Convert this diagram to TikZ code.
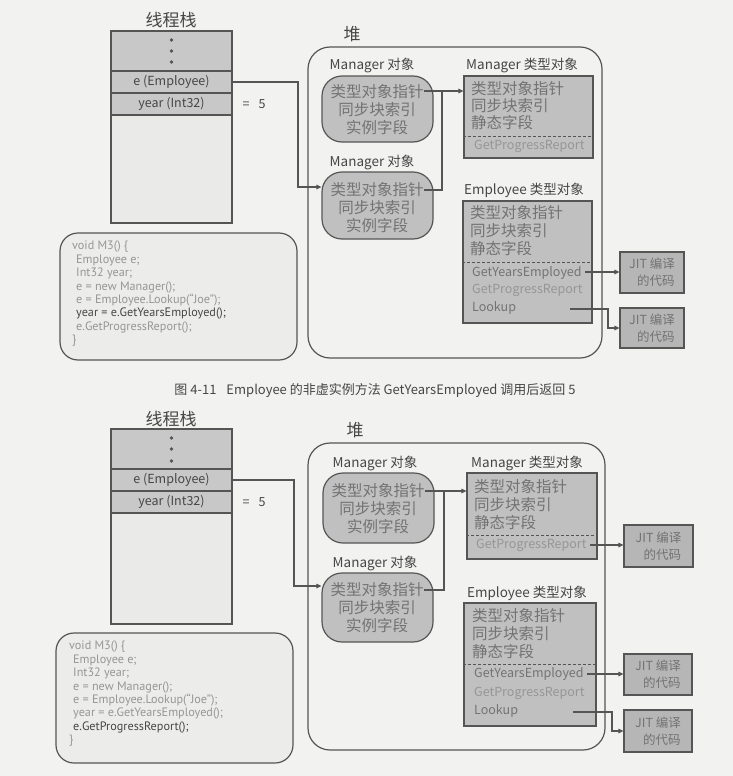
\documentclass[tikz,border=0pt]{standalone}
\usepackage{fontspec}
\setmainfont{Noto Sans CJK SC}
\newfontfamily\codefont{PT Sans}
\usetikzlibrary{arrows.meta}
\definecolor{pagebg}{RGB}{242,242,240}
\definecolor{edge}{RGB}{85,85,85}
\definecolor{cellgray}{RGB}{200,200,200}
\definecolor{restgray}{RGB}{234,234,232}
\definecolor{objgray}{RGB}{192,192,192}
\definecolor{jitgray}{RGB}{182,182,182}
\definecolor{codegray}{RGB}{236,236,234}
\definecolor{txt}{RGB}{115,115,115}
\definecolor{dark}{RGB}{70,70,70}
\definecolor{faint}{RGB}{150,150,150}
\tikzset{
  every node/.style={inner sep=0pt},
  title/.style={text=dark, font=\fontsize{17}{18}\selectfont},
  cell/.style={draw=edge, line width=1.2pt, fill=cellgray, minimum width=121pt, text=dark, font=\fontsize{12.5}{13}\selectfont},
  objbox/.style={draw=edge, line width=1.2pt, fill=objgray, rounded corners=20pt, minimum width=111pt},
  typebox/.style={draw=edge, line width=1.2pt, fill=objgray},
  jitbox/.style={draw=edge, line width=1.2pt, fill=jitgray, align=left, text=txt, font=\fontsize{12.5}{17}\selectfont},
  heap/.style={draw=edge, line width=1.2pt, rounded corners=22pt},
  codebox/.style={draw=edge, line width=1.2pt, fill=codegray, rounded corners=18pt},
  code/.style={align=left, text=faint, font=\codefont\fontsize{12.2}{13.4}\selectfont},
  lbl/.style={text=dark, font=\fontsize{13.5}{14}\selectfont},
  cjk/.style={text=txt, font=\fontsize{15.5}{16}\selectfont},
  meth/.style={text=txt, font=\fontsize{12.5}{13}\selectfont, anchor=west},
  ptr/.style={draw=edge, line width=1.1pt, -{Triangle[length=5pt,width=4.5pt]}},
  sep/.style={draw=edge, dash pattern=on 3pt off 2pt, line width=0.9pt}
}
\begin{document}
\begin{tikzpicture}[x=1pt,y=-1pt]
\useasboundingbox[fill=pagebg] (0,0) rectangle (733,776);

% ---- figure 4-11
\node[title] (stkA) at (171,20) {线程栈};
\node[cell, minimum height=40pt] (dotsA) at (171.5,51) {};
\foreach \y in {40,51,62} \fill[edge] (171.5,\y) circle (1.8pt);
\node[cell, minimum height=22pt] (eA) at (171.5,82) {e (Employee)};
\node[cell, minimum height=22pt] (yrA) at (171.5,104) {year (Int32)};
\node[cell, fill=restgray, minimum height=108pt] (restA) at (171.5,169) {};
\node[text=dark, font=\fontsize{12.5}{13}\selectfont] (eqA) at (254,104) {=\hspace{9pt}5};

\node[codebox, minimum width=237pt, minimum height=127pt] (codeA) at (178.5,296.5) {};
\node[code, anchor=north west] (srcA) at (72,241) {void M3() \{\\
\hspace*{4pt}Employee e;\\
\hspace*{4pt}Int32 year;\\
\hspace*{4pt}e = new Manager();\\
\hspace*{4pt}e = Employee.Lookup(“Joe”);\\
\hspace*{4pt}\textcolor{dark}{year = e.GetYearsEmployed();}\\
\hspace*{4pt}e.GetProgressReport();\\
\}};

\node[heap, minimum width=294pt, minimum height=311pt] (heapA) at (455,202.5) {};
\node[title] (hlA) at (352,34) {堆};

\node[lbl] (ml1A) at (372,65) {Manager 对象};
\node[objbox, minimum height=66pt] (mo1A) at (377.5,109) {};
\node[cjk] (mo1pA) at (377,92) {类型对象指针};
\node[cjk] (mo1sA) at (377,110) {同步块索引};
\node[cjk] (mo1fA) at (377,128) {实例字段};
\node[lbl] (ml2A) at (372,162) {Manager 对象};
\node[objbox, minimum height=67pt] (mo2A) at (377.5,205.5) {};
\node[cjk] (mo2pA) at (377,190) {类型对象指针};
\node[cjk] (mo2sA) at (377,208) {同步块索引};
\node[cjk] (mo2fA) at (377,226) {实例字段};

\node[lbl] (mtlA) at (522,65) {Manager 类型对象};
\node[typebox, minimum width=129pt, minimum height=82pt] (mtA) at (528.5,117) {};
\node[cjk, anchor=west] (mt1A) at (471,89) {类型对象指针};
\node[cjk, anchor=west] (mt2A) at (471,106) {同步块索引};
\node[cjk, anchor=west] (mt3A) at (471,123) {静态字段};
\draw[sep] (mtA.west |- 0,136) -- (mtA.east |- 0,136);
\node[meth, text=faint] (mgpA) at (474,146) {GetProgressReport};

\node[lbl] (etlA) at (524,190) {Employee 类型对象};
\node[typebox, minimum width=129pt, minimum height=122pt] (etA) at (527.5,262) {};
\node[cjk, anchor=west] (et1A) at (470,213) {类型对象指针};
\node[cjk, anchor=west] (et2A) at (470,231) {同步块索引};
\node[cjk, anchor=west] (et3A) at (470,249) {静态字段};
\draw[sep] (etA.west |- 0,262) -- (etA.east |- 0,262);
\node[meth] (gyeA) at (472,273) {GetYearsEmployed};
\node[meth, text=faint] (gprA) at (472,290) {GetProgressReport};
\node[meth] (lkA) at (472,308) {Lookup};

\node[jitbox, minimum width=64pt, minimum height=41pt] (jit1A) at (652,272.5) {JIT 编译\\\hspace*{8pt}的代码};
\node[jitbox, minimum width=64pt, minimum height=40pt] (jit2A) at (652,328) {JIT 编译\\\hspace*{8pt}的代码};

\coordinate (ebA) at (298,187);
\coordinate (jnA) at (442,91);
\coordinate (gyeoA) at (585,272);
\coordinate (lkoA) at (570,309);
\coordinate (lkbA) at (608,309);
\draw[ptr] (eA.east) -| (ebA) -- (ebA -| mo2A.west);
\draw[ptr] (mo1pA.east |- jnA) -- (jnA -| mtA.west);
\draw[draw=edge, line width=1.1pt] (mo2pA.east) -| (jnA);
\draw[ptr] (gyeoA) -- (gyeoA -| jit1A.west);
\draw[ptr] (lkoA) -- (lkbA) |- (jit2A.west);

\node[text=dark, font=\fontsize{13}{14}\selectfont] (capA) at (375,391) {图 4-11\hspace{10pt}Employee 的非虚实例方法 GetYearsEmployed 调用后返回 5};

% ---- second figure
\node[title] (stkB) at (171,419) {线程栈};
\node[cell, minimum height=40pt] (dotsB) at (171.5,449) {};
\foreach \y in {438,449,461} \fill[edge] (171.5,\y) circle (1.8pt);
\node[cell, minimum height=22pt] (eB) at (171.5,480) {e (Employee)};
\node[cell, minimum height=22pt] (yrB) at (171.5,502) {year (Int32)};
\node[cell, fill=restgray, minimum height=111pt] (restB) at (171.5,568.5) {};
\node[text=dark, font=\fontsize{12.5}{13}\selectfont] (eqB) at (254,502) {=\hspace{9pt}5};

\node[codebox, minimum width=237pt, minimum height=130pt] (codeB) at (174.5,698) {};
\node[code, anchor=north west] (srcB) at (69,641) {void M3() \{\\
\hspace*{4pt}Employee e;\\
\hspace*{4pt}Int32 year;\\
\hspace*{4pt}e = new Manager();\\
\hspace*{4pt}e = Employee.Lookup(“Joe”);\\
\hspace*{4pt}year = e.GetYearsEmployed();\\
\hspace*{4pt}\textcolor{dark}{e.GetProgressReport();}\\
\}};

\node[heap, minimum width=297pt, minimum height=307pt] (heapB) at (456.5,596.5) {};
\node[title] (hlB) at (355,430) {堆};

\node[lbl] (ml1B) at (375,463) {Manager 对象};
\node[objbox, minimum height=70pt] (mo1B) at (378.5,508) {};
\node[cjk] (mo1pB) at (378,491) {类型对象指针};
\node[cjk] (mo1sB) at (378,509) {同步块索引};
\node[cjk] (mo1fB) at (378,527) {实例字段};
\node[lbl] (ml2B) at (375,563) {Manager 对象};
\node[objbox, minimum height=69pt] (mo2B) at (377.5,607.5) {};
\node[cjk] (mo2pB) at (377,590) {类型对象指针};
\node[cjk] (mo2sB) at (377,608) {同步块索引};
\node[cjk] (mo2fB) at (377,626) {实例字段};

\node[lbl] (mtlB) at (527,463) {Manager 类型对象};
\node[typebox, minimum width=130pt, minimum height=86pt] (mtB) at (532,516) {};
\node[cjk, anchor=west] (mt1B) at (474,487) {类型对象指针};
\node[cjk, anchor=west] (mt2B) at (474,505) {同步块索引};
\node[cjk, anchor=west] (mt3B) at (474,523) {静态字段};
\draw[sep] (mtB.west |- 0,535) -- (mtB.east |- 0,535);
\node[meth, text=faint] (mgpB) at (476,545) {GetProgressReport};

\node[lbl] (etlB) at (527,593) {Employee 类型对象};
\node[typebox, minimum width=132pt, minimum height=123pt] (etB) at (530,664.5) {};
\node[cjk, anchor=west] (et1B) at (472,616) {类型对象指针};
\node[cjk, anchor=west] (et2B) at (472,634) {同步块索引};
\node[cjk, anchor=west] (et3B) at (472,652) {静态字段};
\draw[sep] (etB.west |- 0,664) -- (etB.east |- 0,664);
\node[meth] (gyeB) at (474,674) {GetYearsEmployed};
\node[meth, text=faint] (gprB) at (474,693) {GetProgressReport};
\node[meth] (lkB) at (474,711) {Lookup};

\node[jitbox, minimum width=69pt, minimum height=42pt] (jit1B) at (658.5,546) {JIT 编译\\\hspace*{8pt}的代码};
\node[jitbox, minimum width=68pt, minimum height=41pt] (jit2B) at (658,674.5) {JIT 编译\\\hspace*{8pt}的代码};
\node[jitbox, minimum width=68pt, minimum height=42pt] (jit3B) at (658,731) {JIT 编译\\\hspace*{8pt}的代码};

\coordinate (ebB) at (294,586);
\coordinate (jnB) at (444,491);
\coordinate (mgpoB) at (590,545);
\coordinate (gyeoB) at (587,674);
\coordinate (lkoB) at (573,712);
\coordinate (lkbB) at (612,712);
\draw[ptr] (eB.east) -| (ebB) -- (ebB -| mo2B.west);
\draw[ptr] (mo1pB.east) -- (mo1pB.east -| mtB.west);
\draw[draw=edge, line width=1.1pt] (mo2pB.east) -| (jnB);
\draw[ptr] (mgpoB) -- (mgpoB -| jit1B.west);
\draw[ptr] (gyeoB) -- (gyeoB -| jit2B.west);
\draw[ptr] (lkoB) -- (lkbB) |- (jit3B.west);
\end{tikzpicture}
\end{document}
